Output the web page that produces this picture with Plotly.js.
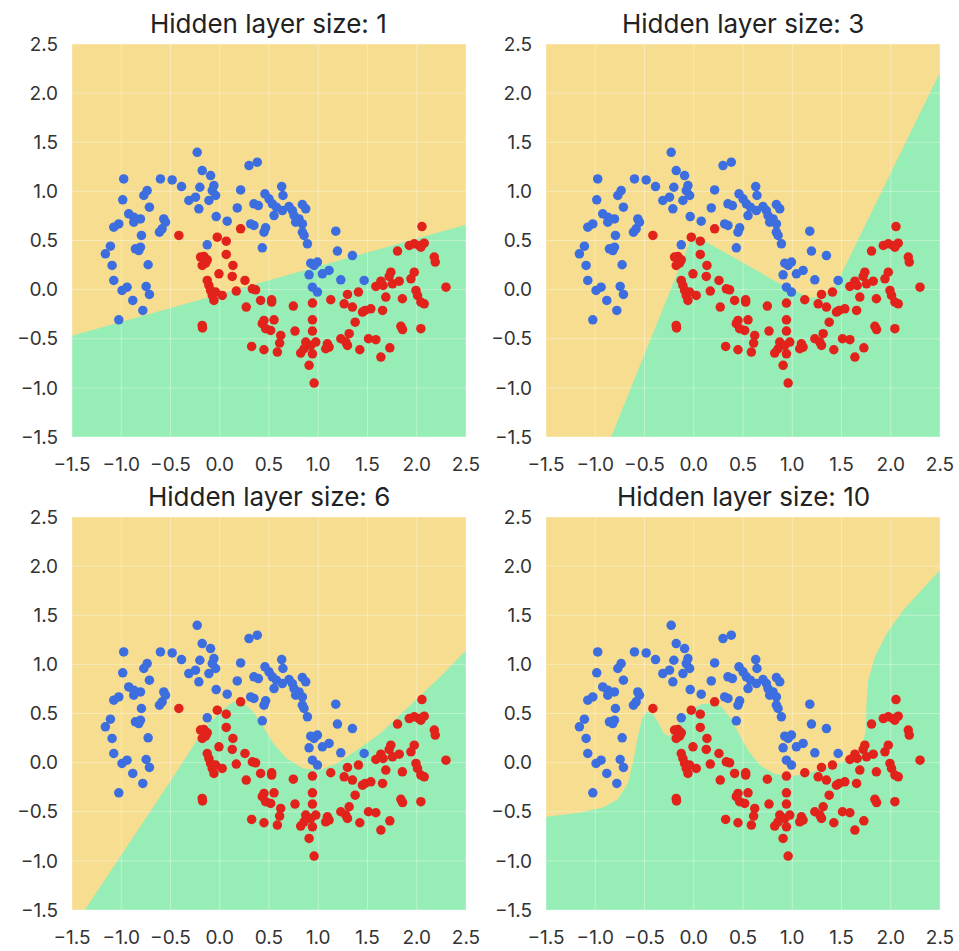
<!DOCTYPE html>
<html><head><meta charset="utf-8">
<script src="https://cdn.plot.ly/plotly-3.0.1.min.js"></script>
<style>html,body{margin:0;padding:0;background:#fff}</style>
</head><body><div id="chart" style="width:959px;height:951px"></div>
<script>
const hiddenSizes = [1, 3, 6, 10];
const tickVals = [-1.5, -1.0, -0.5, 0.0, 0.5, 1.0, 1.5, 2.0, 2.5];

const blueX = [-0.229,0.297,0.381,-0.975,-0.602,-0.483,-0.388,-0.178,-0.093,-0.202,
 -0.059,-0.076,-0.042,-0.110,-0.737,-0.771,-0.985,-0.314,-0.246,-0.212,
 -0.714,0.212,0.629,0.642,0.459,0.500,0.534,0.575,0.551,0.347,
 0.392,0.178,0.636,0.703,0.737,0.839,0.873,0.754,0.805,0.839,
 0.771,-0.924,-0.873,-0.805,-0.873,-1.025,-1.076,-0.568,-0.551,-0.585,
 -0.612,-0.036,0.076,0.314,0.347,0.466,0.449,0.839,0.856,1.178,
 -0.795,-1.110,-1.161,-0.856,-0.805,-0.822,-0.127,0.432,0.890,1.195,
 1.347,-1.093,-0.727,0.924,0.992,0.958,0.907,1.110,1.042,-1.076,
 1.229,1.466,-0.941,-0.992,-0.747,-0.714,0.941,0.992,-0.883,-0.781,-1.025];
const blueY = [1.398,1.263,1.297,1.127,1.127,1.117,1.049,1.212,1.161,1.042,
 1.059,1.008,0.958,0.907,1.008,0.958,0.914,0.907,0.941,0.822,
 0.839,1.015,1.049,0.958,0.975,0.924,0.873,0.839,0.754,0.873,
 0.856,0.832,0.805,0.846,0.805,0.866,0.822,0.754,0.720,0.669,
 0.686,0.771,0.737,0.720,0.686,0.669,0.636,0.720,0.686,0.619,
 0.585,0.744,0.697,0.669,0.653,0.629,0.585,0.585,0.551,0.595,
 0.551,0.442,0.364,0.415,0.432,0.398,0.456,0.425,0.466,0.392,
 0.347,0.246,0.253,0.269,0.280,0.246,0.151,0.195,0.161,0.093,
 0.100,0.093,0.025,-0.008,0.032,-0.049,0.025,-0.025,-0.110,-0.212,-0.307];

const redX = [-0.415,0.212,-0.025,0.066,0.066,-0.161,-0.127,-0.144,-0.178,-0.195,
 0.134,-0.008,0.127,-0.127,-0.110,-0.093,-0.076,-0.059,-0.042,0.025,
 0.256,0.168,0.331,0.364,0.415,0.527,0.527,0.269,0.747,0.941,
 0.941,1.127,1.297,1.263,1.408,1.347,1.476,1.534,1.449,1.653,
 1.375,0.449,0.551,0.432,0.466,0.517,0.764,0.941,0.619,0.608,
 0.585,0.324,0.449,0.873,0.924,0.975,0.856,0.822,0.941,1.093,
 1.110,1.076,1.229,1.280,1.314,1.297,1.510,1.585,1.422,1.727,
 1.636,0.907,0.958,-0.178,-0.175,1.737,1.720,1.636,1.659,1.585,
 1.754,1.822,1.941,1.975,1.805,1.924,1.975,2.025,2.076,2.042,
 2.053,2.178,2.188,2.297,1.686,1.854,1.992,2.008,2.042,2.076,
 2.042,1.839,1.856];
const redY = [0.551,0.619,0.534,0.493,0.358,0.337,0.303,0.269,0.246,0.331,
 0.246,0.161,0.134,0.093,0.042,-0.008,-0.059,-0.110,-0.025,-0.059,
 0.093,-0.015,0.008,-0.002,-0.110,-0.103,-0.127,-0.178,-0.168,-0.137,
 -0.307,-0.103,-0.049,-0.144,-0.025,-0.178,-0.212,-0.195,-0.229,-0.212,
 -0.331,-0.314,-0.307,-0.347,-0.398,-0.415,-0.422,-0.422,-0.466,-0.544,
 -0.636,-0.578,-0.612,-0.534,-0.568,-0.534,-0.602,-0.646,-0.653,-0.551,
 -0.585,-0.602,-0.500,-0.534,-0.449,-0.568,-0.500,-0.510,-0.612,-0.592,
 -0.686,-0.771,-0.951,-0.364,-0.390,0.178,0.134,0.086,0.042,0.032,
 0.059,0.086,0.110,0.178,0.392,0.449,0.466,0.449,0.473,0.432,
 0.642,0.331,0.280,0.025,-0.076,-0.093,-0.008,-0.059,-0.127,-0.144,
 -0.398,-0.373,-0.407];

// green (class 1) decision regions, one polygon per hidden-layer size
const region1X = [-1.5, 2.5, 2.5, -1.5];
const region1Y = [-0.47, 0.66, -1.5, -1.5];
const region3X = [-0.839, -0.009, 0.398, 0.873, 1.178, 1.310, 1.449, 2.5, 2.5];
const region3Y = [-1.5, 0.561, 0.331, 0.059, -0.083, -0.076, 0.059, 2.212, -1.5];
const region6X = [-1.37,-0.812,-0.371,-0.168,0.002,0.137,0.239,0.341,0.442,0.544,0.680,0.849,1.018,1.188,1.391,1.629,1.900,2.239,2.5,2.5];
const region6Y = [-1.5,-0.653,0.008,0.331,0.517,0.619,0.602,0.517,0.364,0.195,0.042,-0.059,-0.076,-0.008,0.127,0.297,0.551,0.873,1.144,-1.5];
const region10X = [-1.5,-1.5,-1.161,-0.924,-0.771,-0.669,-0.612,-0.568,-0.524,-0.476,-0.422,-0.364,-0.307,-0.253,-0.195,-0.127,-0.042,0.076,0.195,0.280,0.364,0.449,0.551,0.669,0.822,1.008,1.212,1.415,1.602,1.703,1.747,1.754,1.771,1.839,1.958,2.127,2.331,2.5,2.5];
const region10Y = [-1.5,-0.551,-0.510,-0.456,-0.375,-0.212,0.025,0.263,0.449,0.517,0.500,0.415,0.303,0.263,0.331,0.439,0.534,0.595,0.608,0.568,0.466,0.314,0.127,-0.025,-0.117,-0.137,-0.093,-0.025,0.042,0.144,0.331,0.602,0.839,1.076,1.314,1.551,1.771,1.96,-1.5];

const regionsX = [region1X, region3X, region6X, region10X];
const regionsY = [region1Y, region3Y, region6Y, region10Y];

const YELLOW = '#F6DD8F', GREEN = '#97EDB6', BLUE = '#3D6EE0', RED = '#E2231B';
const FONT = 'Inter, "Open Sans", sans-serif';

const traces = [];
const annotations = [];
const layout = {
  width: 959, height: 951,
  margin: {l: 72, r: 19, t: 44, b: 41},
  paper_bgcolor: '#ffffff', plot_bgcolor: YELLOW,
  showlegend: false,
  font: {family: FONT, size: 19, color: '#333333'},
  annotations: annotations
};
const xDomains = [[0, 0.4539], [0.5461, 1], [0, 0.4539], [0.5461, 1]];
const yDomains = [[0.5462, 1], [0.5462, 1], [0, 0.4538], [0, 0.4538]];

// grid line paths from tick values
const gx = [], gy = [], hx = [], hy = [];
tickVals.forEach(v => { gx.push(v, v, null); gy.push(-1.5, 2.5, null); hx.push(-1.5, 2.5, null); hy.push(v, v, null); });

hiddenSizes.forEach((h, i) => {
  const n = i === 0 ? '' : String(i + 1);
  const xa = 'x' + n, ya = 'y' + n;
  traces.push({type: 'scatter', mode: 'lines', x: regionsX[i], y: regionsY[i], xaxis: xa, yaxis: ya,
    fill: 'toself', fillcolor: GREEN, line: {width: 0, color: GREEN}, hoverinfo: 'skip'});
  traces.push({type: 'scatter', mode: 'lines', x: gx.concat(hx), y: gy.concat(hy), xaxis: xa, yaxis: ya,
    line: {width: 1, color: 'rgba(255,255,255,0.35)'}, hoverinfo: 'skip'});
  traces.push({type: 'scatter', mode: 'markers', x: blueX, y: blueY, xaxis: xa, yaxis: ya,
    marker: {size: 9.5, color: BLUE}});
  traces.push({type: 'scatter', mode: 'markers', x: redX, y: redY, xaxis: xa, yaxis: ya,
    marker: {size: 9.5, color: RED}});
  const axCommon = {range: [-1.5, 2.5], tickvals: tickVals, tickformat: '.1f', showgrid: false,
    zeroline: false, showline: false, ticks: '', tickfont: {family: FONT, size: 19, color: '#333333'}, fixedrange: true};
  layout['xaxis' + n] = Object.assign({}, axCommon, {domain: xDomains[i], anchor: ya, ticklabelstandoff: 14});
  layout['yaxis' + n] = Object.assign({}, axCommon, {domain: yDomains[i], anchor: xa, ticklabelstandoff: 13});
  annotations.push({text: 'Hidden layer size: ' + h, xref: xa + ' domain', yref: ya + ' domain',
    x: 0.5, y: 1, xanchor: 'center', yanchor: 'bottom', yshift: 3, showarrow: false,
    font: {family: FONT, size: 26, color: '#222222'}});
});

Plotly.newPlot('chart', traces, layout, {displayModeBar: false, staticPlot: true});
</script>
</body></html>
